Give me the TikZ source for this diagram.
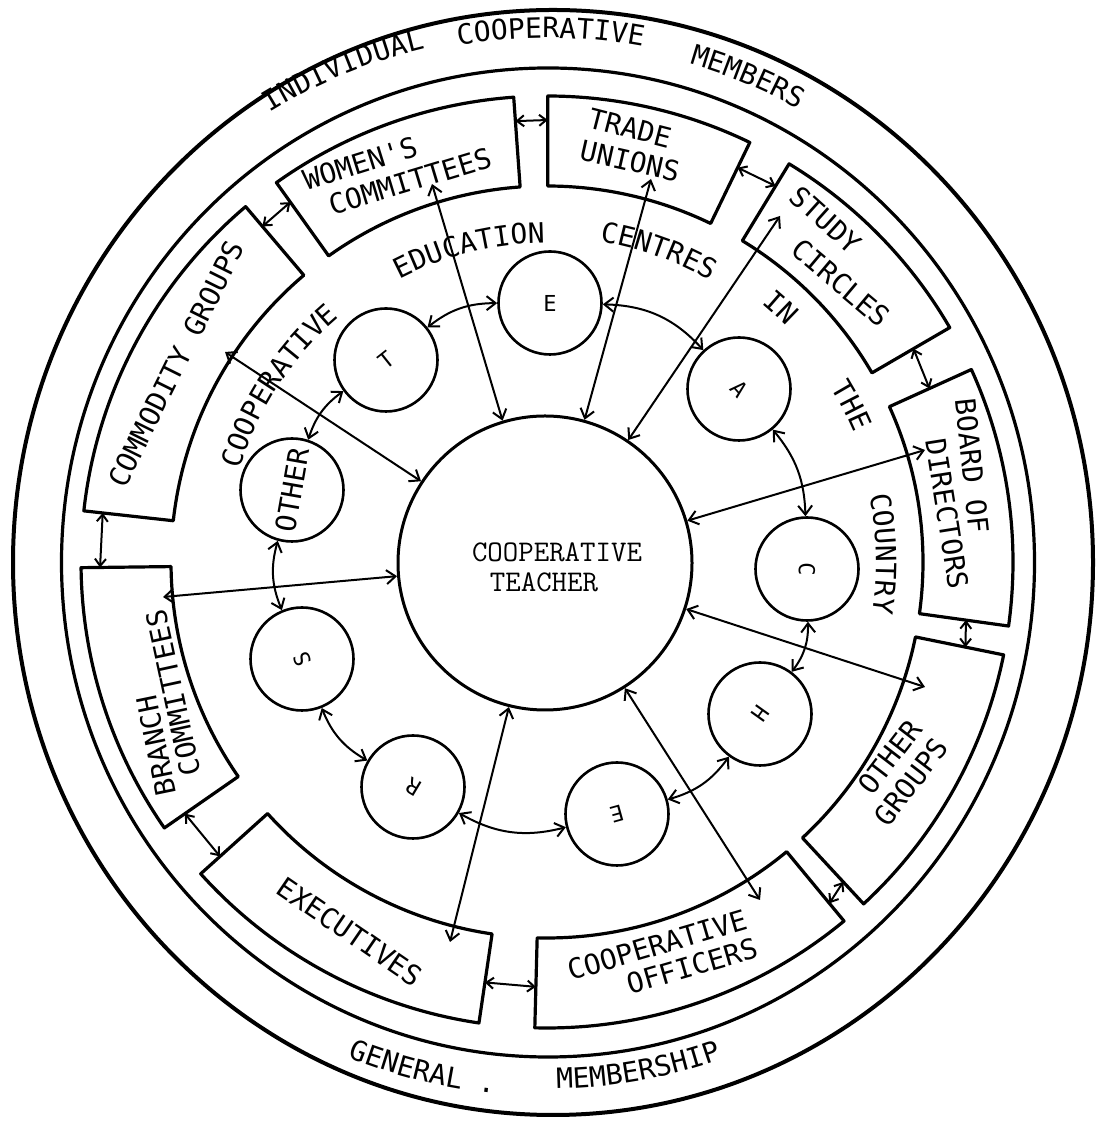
\documentclass[tikz,border=0pt]{standalone}
\usepackage{fontspec}
\usepackage{graphicx}
\usetikzlibrary{arrows.meta,decorations.text,calc}
\newfontfamily\lettering{DejaVu Sans Mono}
\newcommand\ltr{\lettering\fontsize{28}{30}\selectfont}
\newcommand\ltrs{\lettering\fontsize{22}{24}\selectfont}
\begin{document}
\begin{tikzpicture}[x=1pt,y=1pt,line join=round,line cap=round]
\tikzset{
  boxline/.style={line width=3.2pt},
  smallc/.style={circle,draw,line width=2.6pt,minimum size=103pt,inner sep=0pt},
  arr/.style={line width=2pt,{Straight Barb[length=9pt,width=14pt]}-{Straight Barb[length=9pt,width=14pt]}},
  garr/.style={line width=2pt,{Straight Barb[length=7pt,width=11pt]}-{Straight Barb[length=7pt,width=11pt]}},
  lbl/.style={font=\ltr,inner sep=0pt},
  ttlbl/.style={font=\ttfamily\fontsize{30}{32}\selectfont,inner sep=0pt},
  ringtext/.style={decorate,decoration={text along path,text={|\ltr|#1},text align=center}}
}
\useasboundingbox (0,0) rectangle (1110,1121);
\fill[white] (0,0) rectangle (1110,1121);
\coordinate (O) at (547,559);

% outer rings
\draw[line width=4pt] (553,558.5) ellipse [x radius=540, y radius=552.5];
\draw[line width=3.2pt] (548,558.5) ellipse [x radius=486.5, y radius=494.5];

\begin{scope}[shift={(O)}]
% boxes (annular sectors)
\foreach \a/\b in {94.1/125.5, 64.2/89.9, 30.2/58.7, -7.9/24.4, -47.2/-11.5, -91.5/-50.4, -138/-98.4, 180.7/214.8, 130.3/173.7}
  \draw[boxline] (\a:376) arc[start angle=\a, end angle=\b, radius=376] -- (\b:466) arc[start angle=\b, end angle=\a, radius=466] -- cycle;

% gap arrows between boxes
\coordinate (g1a) at (94.1:442);  \coordinate (g1b) at (89.9:442);
\coordinate (g2a) at (130.3:440); \coordinate (g2b) at (125.5:442);
\coordinate (g3a) at (64.2:438);  \coordinate (g3b) at (58.7:440);
\coordinate (g4a) at (30.2:424);  \coordinate (g4b) at (24.4:420);
\coordinate (g5a) at (-7.9:423);  \coordinate (g5b) at (-11.5:427);
\coordinate (g6a) at (-47.2:436); \coordinate (g6b) at (-50.4:443);
\coordinate (g7a) at (-98.4:425); \coordinate (g7b) at (-91.5:425);
\coordinate (g8a) at (-145.2:441);\coordinate (g8b) at (-138:440);
\coordinate (g9a) at (173.7:447); \coordinate (g9b) at (180.7:447);
\foreach \g in {1,...,9} \draw[garr] (g\g a) -- (g\g b);

% text along the inner ring
\path[ringtext=COOPERATIVE] (176.8:321) arc[start angle=176.8, end angle=116.8, radius=321];
\path[ringtext=EDUCATION] (134:319) arc[start angle=134, end angle=74, radius=319];
\path[ringtext=CENTRES] (100.3:325) arc[start angle=100.3, end angle=40.3, radius=325];
\path[ringtext=IN] (67.5:336) arc[start angle=67.5, end angle=27.5, radius=336];
\path[ringtext=THE] (47.2:333) arc[start angle=47.2, end angle=7.2, radius=333];
\path[ringtext=COUNTRY] (31.4:329) arc[start angle=31.4, end angle=-28.6, radius=329];

% text along the outer ring
\path[ringtext=INDIVIDUAL] (142.5:528) arc[start angle=142.5, end angle=82.5, radius=528];
\path[ringtext=COOPERATIVE] (119.6:524) arc[start angle=119.6, end angle=59.6, radius=524];
\path[ringtext=MEMBERS] (97.5:518) arc[start angle=97.5, end angle=37.5, radius=518];
\path[ringtext={GENERAL .}] (-133.8:534) arc[start angle=-133.8, end angle=-73.8, radius=534];
\path[ringtext=MEMBERSHIP] (-109.8:527) arc[start angle=-109.8, end angle=-49.8, radius=527];
\end{scope}

% box labels
\node[lbl,rotate=17.4] (lw1) at (360,958) {WOMEN'S};
\node[lbl,rotate=16.8] (lw2) at (410,940) {COMMITTEES};
\node[lbl,rotate=-14.5] (lt1) at (630,993) {TRADE};
\node[lbl,rotate=-12.7] (lt2) at (630,960) {UNIONS};
\node[lbl,rotate=-42] (ls1) at (826,901) {STUDY};
\node[lbl,rotate=-40] (ls2) at (841,838) {CIRCLES};
\node[lbl,rotate=-84] (lb1) at (972,655) {BOARD OF};
\node[lbl,rotate=-81] (lb2) at (947,607) {DIRECTORS};
\node[lbl,rotate=52.5] (lo1) at (890,364) {OTHER};
\node[lbl,rotate=52.6] (lo2) at (911,339) {GROUPS};
\node[lbl,rotate=16.3] (lc1) at (657,176) {COOPERATIVE};
\node[lbl,rotate=16.2] (lc2) at (692,155) {OFFICERS};
\node[lbl,rotate=-34.4] (lx1) at (350,189) {EXECUTIVES};
\node[lbl,rotate=101.6] (lr1) at (156,375) {BRANCH};
\node[lbl,rotate=102.2] (lr2) at (173,428) {COMMITTEES};
\node[lbl,rotate=63.6] (lg1) at (176,757) {COMMODITY GROUPS};

% central circle
\node[circle,draw,line width=3pt,minimum size=294pt,inner sep=0pt] (teacher) at (545,558) {};
\node[ttlbl] (tc1) at (557,569) {COOPERATIVE};
\node[ttlbl] (tc2) at (544,539) {TEACHER};

% small circles
\node[smallc] (OT) at (292,631) {\rotatebox{80}{\ltr OTHER}};
\node[smallc] (T)  at (386,761) {\rotatebox{38.5}{\ltrs T}};
\node[smallc] (E)  at (550,818) {\ltrs E};
\node[smallc] (A)  at (739,732) {\rotatebox{-48}{\ltrs A}};
\node[smallc] (C)  at (807,552) {\rotatebox{-91.5}{\ltrs C}};
\node[smallc] (H)  at (760,407) {\rotatebox{-125.5}{\ltrs H}};
\node[smallc] (E2) at (617,307) {\rotatebox{-164.5}{\ltrs E}};
\node[smallc] (R)  at (413,334) {\rotatebox{149.2}{\ltrs R}};
\node[smallc] (S)  at (302,462) {\rotatebox{111.6}{\ltrs S}};

% arrows around the inner ring
\draw[arr] (OT) to[bend left=18] (T);
\draw[arr] (T)  to[bend left=19] (E);
\draw[arr] (E)  to[bend left=23] (A);
\draw[arr] (A)  to[bend left=19] (C);
\draw[arr] (C)  to[bend left=19] (H);
\draw[arr] (H)  to[bend left=19] (E2);
\draw[arr] (E2) to[bend left=22] (R);
\draw[arr] (R)  to[bend left=19] (S);
\draw[arr] (S)  to[bend left=19] (OT);

% arrows from the teacher to the groups
\coordinate (tW)  at (432,937);
\coordinate (tT)  at (651,942);
\coordinate (tS)  at (780,905);
\coordinate (tB)  at (925,671);
\coordinate (tO)  at (925,434);
\coordinate (tCO) at (760,221);
\coordinate (tX)  at (450,179);
\coordinate (tBr) at (163,524);
\coordinate (tCG) at (225,769);
\foreach \t in {tW,tT,tS,tB,tO,tCO,tX,tBr,tCG}
  \draw[arr] (teacher) -- (\t);
\end{tikzpicture}
\end{document}
